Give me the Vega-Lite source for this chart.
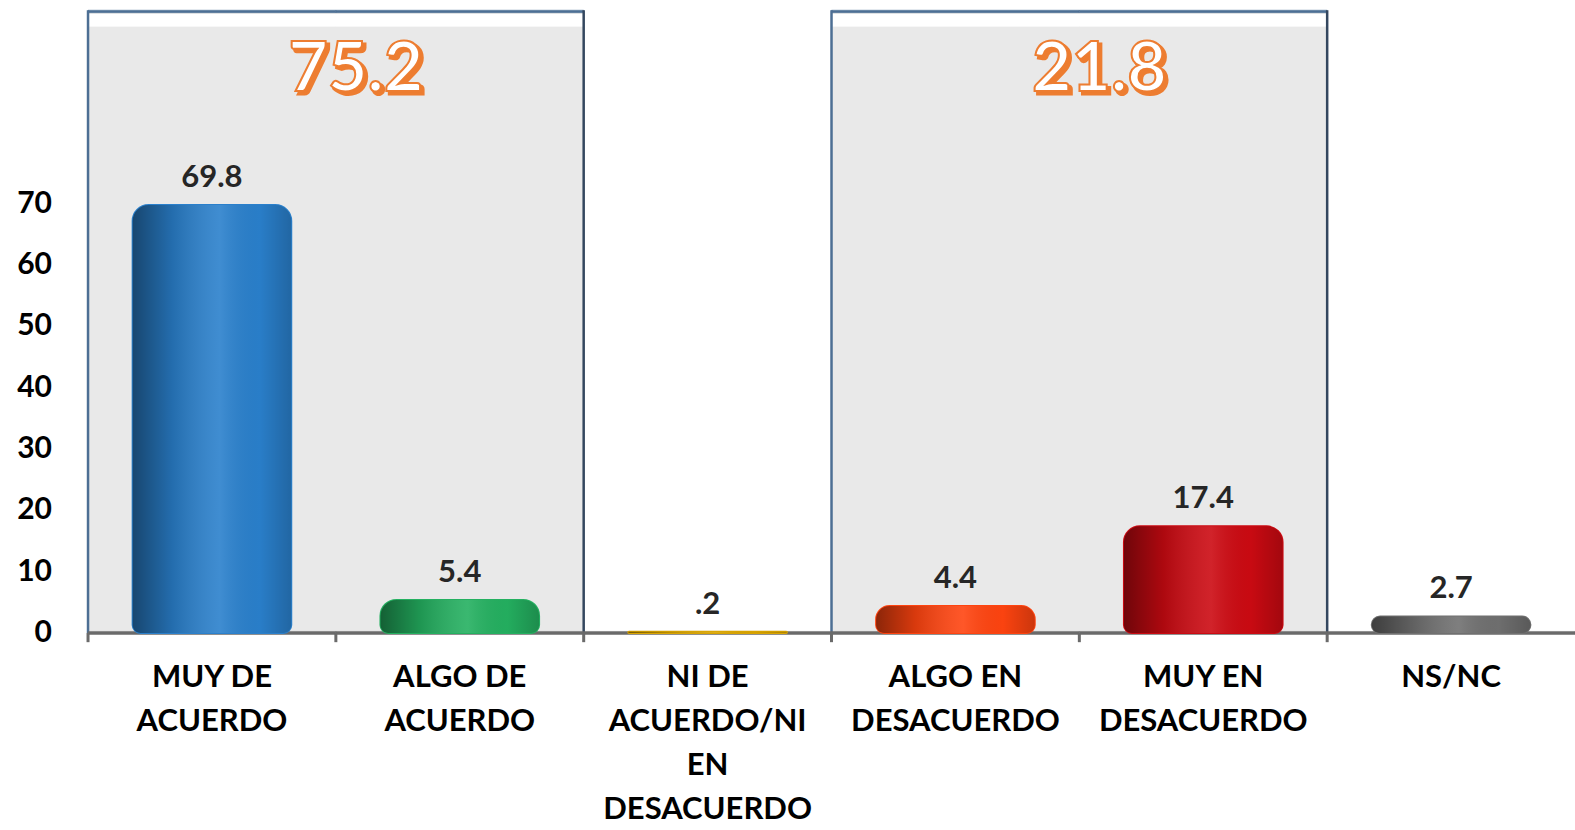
{
  "$schema": "https://vega.github.io/schema/vega-lite/v6.json",
  "width": 1575,
  "height": 830,
  "autosize": {"type": "none"},
  "padding": 0,
  "background": "white",
  "config": {"view": {"stroke": null}, "font": "Lato"},
  "datasets": {
    "categorias": [
      {"categoria": "MUY DE ACUERDO", "valor": 69.8, "grupo": "ACUERDO"},
      {"categoria": "ALGO DE ACUERDO", "valor": 5.4, "grupo": "ACUERDO"},
      {"categoria": "NI DE ACUERDO/NI EN DESACUERDO", "valor": 0.2, "grupo": null},
      {"categoria": "ALGO EN DESACUERDO", "valor": 4.4, "grupo": "DESACUERDO"},
      {"categoria": "MUY EN DESACUERDO", "valor": 17.4, "grupo": "DESACUERDO"},
      {"categoria": "NS/NC", "valor": 2.7, "grupo": null}
    ],
    "grupos": [
      {"grupo": "ACUERDO", "inicio": "MUY DE ACUERDO", "fin": "ALGO DE ACUERDO", "total": 75.2},
      {"grupo": "DESACUERDO", "inicio": "ALGO EN DESACUERDO", "fin": "MUY EN DESACUERDO", "total": 21.8}
    ],
    "marcas": [
      {"marca": 0}, {"marca": 10}, {"marca": 20}, {"marca": 30}, {"marca": 40}, {"marca": 50}, {"marca": 60}, {"marca": 70}
    ]
  },
  "data": {"name": "categorias"},
  "encoding": {
    "x": {
      "field": "categoria", "type": "nominal", "sort": null, "axis": null,
      "scale": {"domain": ["MUY DE ACUERDO", "ALGO DE ACUERDO", "NI DE ACUERDO/NI EN DESACUERDO", "ALGO EN DESACUERDO", "MUY EN DESACUERDO", "NS/NC"], "paddingInner": 0, "paddingOuter": 0.1776, "align": 1}
    }
  },
  "layer": [
    {
      "transform": [{"filter": "datum.grupo != null"}],
      "mark": {"type": "bar", "width": {"band": 1}, "color": "#e9e9e9", "stroke": "#e9e9e9", "strokeWidth": 1},
      "encoding": {
        "y": {"datum": 101.3, "type": "quantitative", "axis": null, "scale": {"domain": [-32.14, 103.26], "nice": false, "zero": false}},
        "y2": {"datum": 0}
      }
    },
    {
      "transform": [{"filter": "datum.grupo != null"}],
      "mark": {"type": "bar", "width": {"band": 1}, "color": "#ffffff", "stroke": "#ffffff", "strokeWidth": 1},
      "encoding": {
        "y": {"datum": 100.9, "type": "quantitative", "axis": null},
        "y2": {"datum": 99.0}
      }
    },
    {
      "transform": [{"filter": "datum.grupo != null"}],
      "mark": {"type": "bar", "width": {"band": 1}, "color": "#4d6f94", "stroke": "#4d6f94", "strokeWidth": 0.5},
      "encoding": {
        "y": {"datum": 101.6, "type": "quantitative", "axis": null},
        "y2": {"datum": 101.2}
      }
    },
    {
      "data": {"name": "grupos"},
      "mark": {"type": "rule", "color": "#4d6f94", "strokeWidth": 2.5},
      "encoding": {
        "x": {"field": "inicio", "type": "nominal", "bandPosition": 0, "axis": null},
        "y": {"datum": 101.6, "type": "quantitative", "axis": null},
        "y2": {"datum": 0}
      }
    },
    {
      "data": {"name": "grupos"},
      "mark": {"type": "rule", "color": "#34475f", "strokeWidth": 2.5},
      "encoding": {
        "x": {"field": "fin", "type": "nominal", "bandPosition": 1, "axis": null},
        "y": {"datum": 101.6, "type": "quantitative", "axis": null},
        "y2": {"datum": 0}
      }
    },
    {
      "data": {"name": "grupos"},
      "mark": {"type": "text", "font": "Lato", "fontWeight": "bold", "fontSize": 68, "fill": "#ED7D31", "stroke": "#ED7D31", "strokeWidth": 3, "baseline": "middle", "align": "center", "dx": 23, "dy": 3},
      "encoding": {
        "x": {"field": "fin", "type": "nominal", "bandPosition": 0, "axis": null},
        "y": {"datum": 91.7, "type": "quantitative", "axis": null},
        "text": {"field": "total", "type": "quantitative", "format": ".1f"}
      }
    },
    {
      "data": {"name": "grupos"},
      "mark": {"type": "text", "font": "Lato", "fontWeight": "bold", "fontSize": 68, "fill": "#ffffff", "stroke": "#ED7D31", "strokeWidth": 2, "baseline": "middle", "align": "center", "dx": 20},
      "encoding": {
        "x": {"field": "fin", "type": "nominal", "bandPosition": 0, "axis": null},
        "y": {"datum": 91.7, "type": "quantitative", "axis": null},
        "text": {"field": "total", "type": "quantitative", "format": ".1f"}
      }
    },
    {
      "mark": {"type": "bar", "width": {"band": 1}, "color": "#6a6a6a", "stroke": "#6a6a6a", "strokeWidth": 0.5},
      "encoding": {
        "y": {"datum": 0.25, "type": "quantitative", "axis": null},
        "y2": {"datum": -0.25}
      }
    },
    {
      "mark": {"type": "rule", "color": "#6a6a6a", "strokeWidth": 3},
      "encoding": {
        "x": {"field": "categoria", "type": "nominal", "bandPosition": 0, "axis": null},
        "y": {"datum": 0, "type": "quantitative", "axis": null},
        "y2": {"datum": -1.5}
      }
    },
    {
      "mark": {"type": "bar", "width": {"band": 0.64}, "strokeWidth": 2, "cornerRadiusTopLeft": 16, "cornerRadiusTopRight": 16, "cornerRadiusBottomLeft": 8, "cornerRadiusBottomRight": 8},
      "encoding": {
        "y": {"field": "valor", "type": "quantitative", "axis": null, "scale": {"domain": [-32.14, 103.26], "nice": false, "zero": false}},
        "y2": {"datum": 0},
        "color": {"field": "categoria", "type": "nominal", "legend": null, "scale": {"domain": ["MUY DE ACUERDO", "ALGO DE ACUERDO", "NI DE ACUERDO/NI EN DESACUERDO", "ALGO EN DESACUERDO", "MUY EN DESACUERDO", "NS/NC"], "range": ["#2a80cc", "#24b060", "#d9a400", "#ff4410", "#cc0a12", "#707070"]}},
        "stroke": {"field": "categoria", "type": "nominal", "legend": null, "scale": {"domain": ["MUY DE ACUERDO", "ALGO DE ACUERDO", "NI DE ACUERDO/NI EN DESACUERDO", "ALGO EN DESACUERDO", "MUY EN DESACUERDO", "NS/NC"], "range": ["#2a80cc", "#24b060", "#d9a400", "#ff4410", "#cc0a12", "#707070"]}}
      }
    },
    {
      "mark": {
        "type": "bar", "width": {"band": 0.64}, "cornerRadiusTopLeft": 16, "cornerRadiusTopRight": 16, "cornerRadiusBottomLeft": 8, "cornerRadiusBottomRight": 8,
        "color": {"gradient": "linear", "x1": 0, "y1": 0, "x2": 1, "y2": 0, "stops": [
          {"offset": 0, "color": "rgba(0,0,0,0.45)"},
          {"offset": 0.25, "color": "rgba(0,0,0,0.15)"},
          {"offset": 0.55, "color": "rgba(255,255,255,0.10)"},
          {"offset": 0.8, "color": "rgba(0,0,0,0.02)"},
          {"offset": 1, "color": "rgba(0,0,0,0.2)"}
        ]}
      },
      "encoding": {
        "y": {"field": "valor", "type": "quantitative", "axis": null},
        "y2": {"datum": 0}
      }
    },
    {
      "mark": {"type": "text", "font": "Lato", "fontWeight": "bold", "fontSize": 31, "color": "#262626", "baseline": "alphabetic", "align": "center", "dy": -18,
        "text": {"expr": "datum.valor < 1 ? slice(format(datum.valor, '.1f'), 1) : format(datum.valor, '.1f')"}},
      "encoding": {
        "y": {"field": "valor", "type": "quantitative", "axis": null}
      }
    },
    {
      "mark": {"type": "text", "font": "Lato", "fontWeight": "bold", "fontSize": 31, "color": "#000000", "baseline": "top", "align": "center", "lineHeight": 44,
        "text": {"expr": "datum.categoria == 'NI DE ACUERDO/NI EN DESACUERDO' ? ['NI DE', 'ACUERDO/NI', 'EN', 'DESACUERDO'] : indexof(datum.categoria, ' ') < 0 ? datum.categoria : [slice(datum.categoria, 0, lastindexof(datum.categoria, ' ')), slice(datum.categoria, lastindexof(datum.categoria, ' ') + 1)]"}},
      "encoding": {
        "y": {"datum": -4.9, "type": "quantitative", "axis": null}
      }
    },
    {
      "data": {"name": "marcas"},
      "mark": {"type": "text", "font": "Lato", "fontWeight": "bold", "fontSize": 30, "color": "#000000", "baseline": "middle", "align": "right", "dx": -36},
      "encoding": {
        "x": {"datum": "MUY DE ACUERDO", "bandPosition": 0, "axis": null},
        "y": {"field": "marca", "type": "quantitative", "axis": null},
        "text": {"field": "marca", "type": "quantitative"}
      }
    }
  ]
}
